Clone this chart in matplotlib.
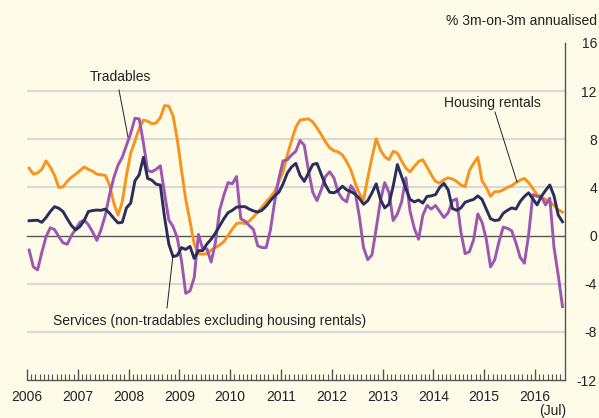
import matplotlib
matplotlib.use('Agg')
import matplotlib.pyplot as plt
import numpy as np

plt.rcParams['font.family'] = ['Liberation Sans', 'DejaVu Sans']
plt.rcParams['axes.unicode_minus'] = False

# monthly data, Jan 2006 .. Jul 2016
housing = [5.6, 5.1, 5.2, 5.5, 6.2, 5.7, 5.0, 4.0, 4.05, 4.5, 4.85, 5.1,
           5.4, 5.7, 5.5, 5.35, 5.1, 5.05, 5.0, 4.2, 2.7, 1.7, 2.8, 5.0,
           6.85, 7.85, 8.9, 9.6, 9.5, 9.3, 9.35, 9.8, 10.8, 10.75, 9.95, 8.0,
           5.4, 3.0, 1.2, -0.7, -1.5, -1.55, -1.5, -1.2, -1.0, -0.8, -0.5, 0.0,
           0.55, 1.0, 1.05, 1.0, 1.2, 1.55, 1.95, 2.35, 2.8, 3.2, 3.65, 4.5,
           5.3, 6.7, 7.9, 9.0, 9.6, 9.65, 9.7, 9.45, 8.95, 8.4, 7.8, 7.3,
           7.05, 6.95, 6.7, 6.15, 5.45, 4.4, 3.5, 2.97, 4.8, 6.5, 8.05, 7.1,
           6.55, 6.3, 7.0, 6.85, 6.2, 5.6, 5.3, 5.75, 6.15, 6.3, 5.7, 5.05,
           4.5, 4.35, 4.65, 4.8, 4.7, 4.5, 4.2, 4.07, 5.4, 6.0, 6.5, 4.55,
           4.0, 3.25, 3.65, 3.65, 3.8, 4.0, 4.15, 4.4, 4.6, 4.75, 4.4, 3.9,
           3.4, 3.2, 3.0, 2.8, 2.5, 2.15, 1.95]

tradables = [-1.2, -2.6, -2.85, -1.4, -0.1, 0.65, 0.5, -0.08, -0.6, -0.72, 0.0, 0.55,
             1.1, 1.3, 0.9, 0.3, -0.4, 0.5, 1.7, 3.4, 4.8, 5.85, 6.5, 7.5,
             8.5, 9.75, 9.7, 7.7, 5.4, 5.3, 5.5, 5.8, 3.5, 1.3, 0.75, -0.2,
             -2.1, -4.8, -4.6, -3.5, 0.1, -1.1, -1.1, -2.2, -0.6, 2.1, 3.35, 4.4,
             4.3, 4.9, 1.4, 1.2, 0.83, 0.5, -0.85, -1.0, -1.0, 0.45, 2.8, 4.75,
             6.2, 6.3, 6.7, 7.0, 7.9, 7.5, 5.4, 3.6, 2.9, 3.8, 4.9, 5.3,
             4.8, 3.6, 3.05, 2.8, 4.15, 3.65, 1.6, -1.0, -2.0, -1.6, 0.6, 2.9,
             4.4, 3.6, 1.25, 1.8, 2.8, 4.8, 2.0, 0.6, -0.3, 1.67, 2.5, 2.2,
             2.5, 2.0, 1.5, 1.9, 2.9, 3.05, 0.3, -1.5, -1.35, -0.35, 1.8, 1.1,
             -0.3, -2.6, -2.0, -0.5, 0.7, 0.6, 0.4, -0.6, -1.8, -2.3, 0.05, 3.4,
             3.25, 3.25, 2.55, 3.1, -1.0, -3.3, -5.9]

services = [1.23, 1.26, 1.27, 1.1, 1.5, 2.0, 2.4, 2.27, 2.0, 1.4, 0.83, 0.47,
            0.75, 1.25, 2.0, 2.08, 2.12, 2.1, 2.2, 1.86, 1.44, 1.05, 1.1, 2.3,
            2.7, 4.55, 5.05, 6.5, 4.75, 4.6, 4.27, 4.2, 1.5, -0.7, -1.75, -1.65,
            -1.0, -1.15, -0.9, -1.9, -1.25, -1.25, -0.7, -0.3, 0.2, 0.8, 1.4, 1.9,
            2.1, 2.36, 2.4, 2.4, 2.2, 2.05, 1.95, 2.1, 2.45, 2.9, 3.3, 3.6,
            4.3, 5.2, 5.7, 6.0, 5.0, 4.5, 5.2, 5.9, 6.0, 5.1, 4.2, 3.6,
            3.55, 3.75, 4.1, 3.8, 3.65, 3.45, 3.1, 2.6, 2.9, 3.55, 4.3, 3.0,
            2.3, 2.6, 4.1, 5.9, 4.9, 3.9, 3.0, 2.8, 2.95, 2.7, 3.25, 3.3,
            3.4, 4.0, 4.33, 3.8, 2.25, 2.1, 2.3, 2.77, 2.9, 3.0, 3.3, 3.0,
            2.2, 1.4, 1.25, 1.3, 1.85, 2.1, 2.3, 2.2, 2.83, 3.25, 3.55, 3.05,
            2.55, 3.25, 3.75, 4.2, 3.3, 1.7, 1.15]

years = list(range(2006, 2017))
yticks = [16, 12, 8, 4, 0, -4, -8, -12]

bg = '#FEFBE8'
orange = '#F7941E'
purple = '#9E57B0'
navy = '#2A2E5E'
fs = 10

x = np.arange(len(housing)) + 0.5

fig = plt.figure(figsize=(5.99, 4.18), dpi=100, facecolor=bg)
ax = fig.add_axes([27 / 599, 38 / 418, 537.6 / 599, 337 / 418])
ax.set_facecolor(bg)

for g in [12, 8, 4, -4, -8]:
    ax.axhline(g, color='#D9D9D6', lw=1.6, zorder=1)
ax.axhline(0, color='#555550', lw=1.0, zorder=1)

ax.plot(x, housing, color=orange, lw=2.1, zorder=3)
ax.plot(x, tradables, color=purple, lw=2.1, zorder=4)
ax.plot(x, services, color=navy, lw=2.1, zorder=5)

ax.set_xlim(0, 127)
ax.set_ylim(-12, 16)

for s in ['top', 'left']:
    ax.spines[s].set_visible(False)
ax.spines['right'].set_color('#555550')
ax.spines['bottom'].set_color('#555550')
ax.spines['right'].set_linewidth(1.0)
ax.spines['bottom'].set_linewidth(1.0)

ax.yaxis.tick_right()
ax.set_yticks(yticks)
ax.set_yticklabels([str(v) for v in yticks], fontsize=fs, color='#222222')
ax.tick_params(axis='y', length=0, pad=23.3)
for lab in ax.get_yticklabels():
    lab.set_horizontalalignment('right')

ax.set_xticks([12 * i for i in range(len(years))])
ax.set_xticklabels([str(y) for y in years], fontsize=fs, color='#222222')
ax.set_xticks(np.arange(0, 127, 1), minor=True)
ax.tick_params(axis='x', which='major', direction='in', length=8, width=1.0,
               color='#555550', pad=7.5)
ax.tick_params(axis='x', which='minor', direction='in', length=4, width=0.8,
               color='#555550')

# labels and pointers (figure pixel coordinates)
def px(xp, yp):
    return (xp / 599, 1 - yp / 418)

fig.text(*px(597, 21), '% 3m-on-3m annualised', ha='right', va='center',
         fontsize=fs, color='#222222')
fig.text(*px(553, 411), '(Jul)', ha='center', va='center', fontsize=fs,
         color='#222222')
fig.text(*px(120, 77), 'Tradables', ha='center', va='center', fontsize=fs,
         color='#222222')
fig.text(*px(492, 103), 'Housing rentals', ha='center', va='center',
         fontsize=fs, color='#222222')
fig.text(*px(53, 321), 'Services (non-tradables excluding housing rentals)',
         ha='left', va='center', fontsize=fs, color='#222222')

for (x0, y0, x1, y1) in [(119, 90, 128, 137), (495, 112, 517, 182),
                         (167, 308, 173, 255)]:
    a, b = px(x0, y0)
    c, d = px(x1, y1)
    fig.add_artist(plt.Line2D([a, c], [b, d], color='#222222', lw=0.7,
                              transform=fig.transFigure))

fig.savefig('out.png', dpi=100, facecolor=bg)
